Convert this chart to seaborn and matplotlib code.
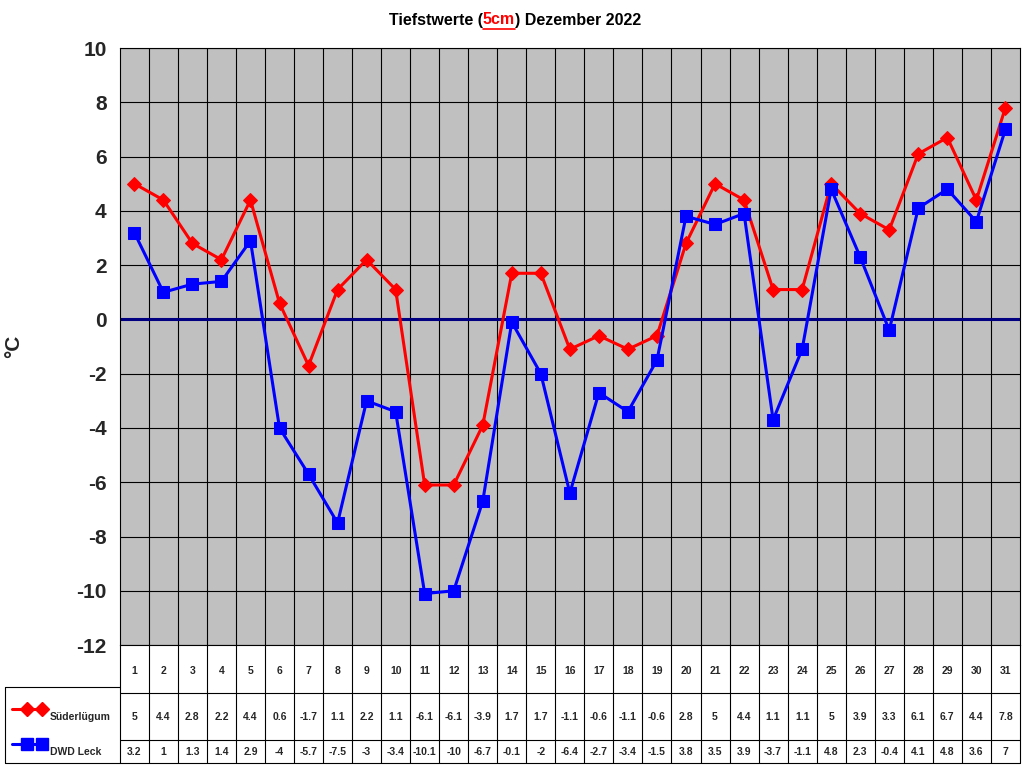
import matplotlib
matplotlib.use("Agg")
import matplotlib.pyplot as plt
import seaborn as sns
import pandas as pd
from matplotlib.lines import Line2D

sns.set_theme(style="white")
plt.rcParams['font.family'] = ['Liberation Sans', 'DejaVu Sans']

days = list(range(1, 32))
suederluegum = [5, 4.4, 2.8, 2.2, 4.4, 0.6, -1.7, 1.1, 2.2, 1.1, -6.1, -6.1, -3.9, 1.7, 1.7,
                -1.1, -0.6, -1.1, -0.6, 2.8, 5, 4.4, 1.1, 1.1, 5, 3.9, 3.3, 6.1, 6.7, 4.4, 7.8]
dwd_leck = [3.2, 1, 1.3, 1.4, 2.9, -4, -5.7, -7.5, -3, -3.4, -10.1, -10, -6.7, -0.1, -2,
            -6.4, -2.7, -3.4, -1.5, 3.8, 3.5, 3.9, -3.7, -1.1, 4.8, 2.3, -0.4, 4.1, 4.8, 3.6, 7]
series_names = ["Süderlügum", "DWD Leck"]
colors = ["#ff0000", "#0000ff"]

df = pd.DataFrame({"Tag": days, "Süderlügum": suederluegum, "DWD Leck": dwd_leck})

fig = plt.figure(figsize=(10.24, 7.68), dpi=100)
ax = fig.add_axes([0.117, 0.160, 0.879, 0.7775])
ax.set_facecolor("#c0c0c0")

sns.lineplot(data=df, x="Tag", y="Süderlügum", ax=ax, color=colors[0], marker="D",
             markersize=7, linewidth=2.2, markeredgecolor=colors[0])
sns.lineplot(data=df, x="Tag", y="DWD Leck", ax=ax, color=colors[1], marker="s",
             markersize=9, linewidth=2.2, markeredgecolor=colors[1])
ax.axhline(0, color="#000080", linewidth=2.2, zorder=1)

ax.set_xlim(0.5, 31.5)
ax.set_ylim(-12, 10)
ax.set_yticks(range(-12, 11, 2))
ax.set_yticklabels([str(v) for v in range(-12, 11, 2)], fontsize=15, fontweight="bold")
ax.set_xticks([])
for d in range(1, 31):
    ax.axvline(d + 0.5, color="black", linewidth=0.8, zorder=0.5)
for v in range(-12, 11, 2):
    ax.axhline(v, color="black", linewidth=0.8, zorder=0.5)
ax.set_xlabel("")
ax.set_ylabel("°C", fontsize=15, fontweight="bold", labelpad=38)
for s in ax.spines.values():
    s.set_color("black")
    s.set_linewidth(0.8)

# data table
tab = fig.add_axes([0.117, 0.0065, 0.879, 0.1535])
tab.set_xlim(0.5, 31.5)
tab.set_ylim(0, 118)
tab.axis("off")
for d in range(0, 32):
    tab.plot([d + 0.5, d + 0.5], [0, 118], color="black", lw=0.8, clip_on=False)
for y in [0, 23, 70]:
    tab.plot([0.5, 31.5], [y, y], color="black", lw=0.8, clip_on=False)
for i, d in enumerate(days):
    tab.text(d, 92, str(d), ha="center", va="center", fontsize=7.5, fontweight="bold")
    tab.text(d, 46, f"{suederluegum[i]:g}", ha="center", va="center", fontsize=7.5, fontweight="bold")
    tab.text(d, 11, f"{dwd_leck[i]:g}", ha="center", va="center", fontsize=7.5, fontweight="bold")

# legend cells on the left
x0, x1 = 5 / 1024, 120 / 1024
for y in [5 / 768, 28 / 768, 75 / 768, 81 / 768]:
    pass
fig.add_artist(Line2D([x0, x1], [5 / 768, 5 / 768], color="black", lw=0.8))
fig.add_artist(Line2D([x0, x1], [81 / 768, 81 / 768], color="black", lw=0.8))
fig.add_artist(Line2D([x0, x0], [5 / 768, 81 / 768], color="black", lw=0.8))
ys = [51 / 768, 16 / 768]
markers = ["D", "s"]
for name, c, m, y in zip(series_names, colors, markers, ys):
    fig.add_artist(Line2D([12 / 1024, 42 / 1024], [y + 8 / 768, y + 8 / 768], color=c, lw=2.2,
                          marker=m, markevery=[1], markersize=7 if m == "D" else 9))
    fig.add_artist(Line2D([27 / 1024], [y + 8 / 768], color=c, marker=m,
                          markersize=7 if m == "D" else 9))
    fig.text(50 / 1024, y, name, fontsize=7.5, fontweight="bold", va="center")

# title with red underlined part
fig.canvas.draw()
r = fig.canvas.get_renderer()
parts = [("Tiefstwerte (", "black"), ("5cm", "red"), (") Dezember 2022", "black")]
texts = []
x = 0
for s, c in parts:
    t = fig.text(0, 748 / 768, s, color=c, fontsize=11.5, fontweight="bold", va="center")
    texts.append(t)
widths = [t.get_window_extent(r).width / 1024 for t in texts]
x = 0.503 - sum(widths) / 2
for t, w in zip(texts, widths):
    t.set_x(x)
    if t.get_color() == "red":
        fig.add_artist(Line2D([x, x + w], [739 / 768, 739 / 768], color="red", lw=1.2))
    x += w

fig.savefig("out.png", dpi=100)
